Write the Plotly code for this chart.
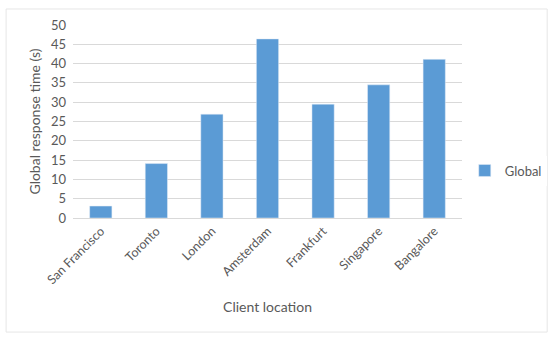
import plotly.graph_objects as go

# Dados
cidades = ['San Francisco', 'Toronto', 'London', 'Amsterdam', 'Frankfurt', 'Singapore', 'Bangalore']
tempo_global = [3.1, 14.1, 26.9, 46.4, 29.5, 34.5, 41.1]
ticks_y = [0, 5, 10, 15, 20, 25, 30, 35, 40, 45, 50]

cor_barra = '#5b9bd5'
cor_texto = '#595959'

fig = go.Figure()
fig.add_trace(go.Bar(
    x=cidades,
    y=tempo_global,
    name='Global',
    marker=dict(color=cor_barra),
    showlegend=True,
))

# Layout
fig.update_layout(
    width=550,
    height=339,
    font=dict(family='Lato, Open Sans, sans-serif', size=12, color=cor_texto),
    plot_bgcolor='white',
    paper_bgcolor='white',
    margin=dict(l=73, r=88, t=25, b=121, autoexpand=False),
    bargap=0.6,
    showlegend=True,
    legend=dict(
        xref='container', yref='container',
        x=0.845, y=0.497, xanchor='left', yanchor='middle',
        font=dict(size=13, color=cor_texto),
        itemwidth=30,
    ),
)

# Eixos
fig.update_xaxes(
    title=dict(text='Client location', font=dict(size=14, color=cor_texto), standoff=16),
    tickangle=-45,
    automargin=False,
    showline=True, linecolor='#d9d9d9', linewidth=1,
    ticks='', tickfont=dict(size=12.5, color=cor_texto),
)
fig.update_yaxes(
    title=dict(text='Global response time (s)', font=dict(size=14, color=cor_texto), standoff=7),
    range=[0, 50],
    tickvals=ticks_y,
    automargin=False,
    ticklabelstandoff=6,
    showgrid=True, gridcolor='#d9d9d9', gridwidth=1,
    zeroline=False, showline=False,
    tickfont=dict(size=13, color=cor_texto),
)

# Borda do gráfico
fig.add_shape(
    type='rect', xref='paper', yref='paper',
    x0=-0.172, x1=1.219, y0=-0.591, y1=1.083,
    line=dict(color='#e6e6e6', width=1), layer='below',
)

# Remove a margem padrão da página e a barra de ferramentas
fig.write_html(
    'out.html',
    config={'displayModeBar': False},
    post_script="document.body.style.margin='0';",
)
